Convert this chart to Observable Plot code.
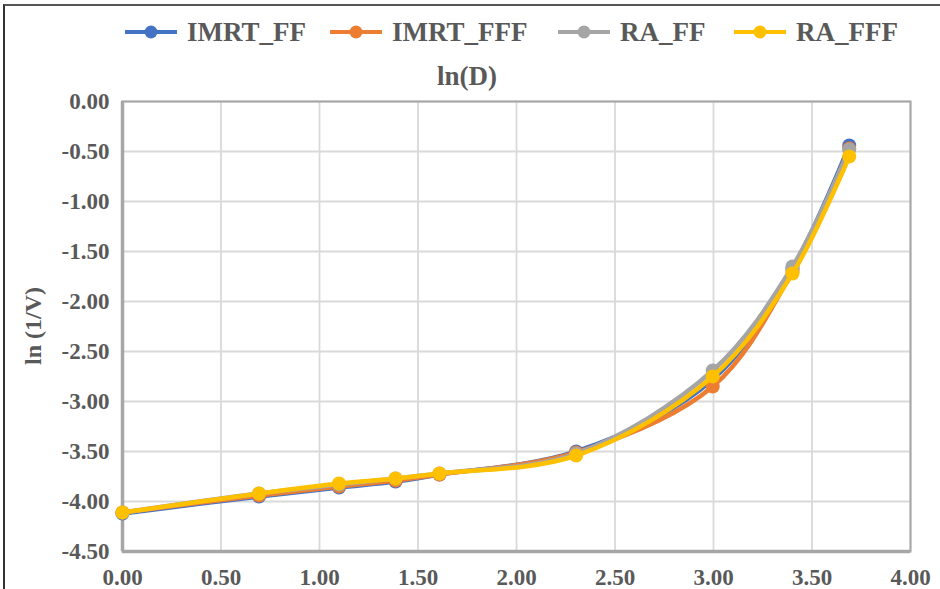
<!DOCTYPE html>
<html>
<head>
<meta charset="utf-8">
<script src="https://cdn.jsdelivr.net/npm/d3@7"></script>
<script src="https://cdn.jsdelivr.net/npm/@observablehq/plot@0.6"></script>
<style>
  body { margin: 0; background: #fff; }
  #wrap { position: relative; width: 940px; height: 589px; background: #fff; overflow: hidden;
          font-family: "Liberation Serif", "Times New Roman", serif; font-weight: bold; color: #595959; }
  #border { position: absolute; left: 3px; top: 4px; width: 960px; height: 620px;
            border-top: 2px solid #555; border-left: 2px solid #333; box-sizing: border-box; }
  .leg { position: absolute; top: 16px; height: 32px; display: flex; align-items: center; font-size: 27px; white-space: nowrap; }
  .leg svg { margin-right: 10px; }
  #title { position: absolute; top: 61px; left: 467px; transform: translateX(-50%); font-size: 27px; }
  #ytitle { position: absolute; left: 33px; top: 326px; transform: translate(-50%, -50%) rotate(-90deg);
            font-size: 24px; white-space: nowrap; }
  #chart { position: absolute; left: 0; top: 0; }
</style>
</head>
<body>
<div id="wrap">
  <div id="border"></div>
  <div id="legend"></div>
  <div id="title"></div>
  <div id="ytitle"></div>
  <div id="chart"></div>
</div>
<script>
// ---- data ----
const lnD = [0.000, 0.693, 1.099, 1.386, 1.609, 2.303, 2.996, 3.401, 3.689];
const seriesNames = ["IMRT_FF", "IMRT_FFF", "RA_FF", "RA_FFF"];
const IMRT_FF  = [-4.12, -3.95, -3.86, -3.80, -3.73, -3.50, -2.78, -1.67, -0.44];
const IMRT_FFF = [-4.11, -3.94, -3.85, -3.79, -3.73, -3.51, -2.85, -1.70, -0.47];
const RA_FF    = [-4.11, -3.92, -3.83, -3.77, -3.72, -3.52, -2.69, -1.65, -0.48];
const RA_FFF   = [-4.11, -3.92, -3.82, -3.77, -3.72, -3.54, -2.75, -1.72, -0.55];
const seriesValues = [IMRT_FF, IMRT_FFF, RA_FF, RA_FFF];
const seriesColors = ["#4472C4", "#ED7D31", "#A5A5A5", "#FFC000"];
const xTicks = [0, 0.5, 1, 1.5, 2, 2.5, 3, 3.5, 4];
const yTicks = [0, -0.5, -1, -1.5, -2, -2.5, -3, -3.5, -4, -4.5];
const xTitle = "ln(D)";
const yTitle = "ln (1/V)";

// ---- legend & titles ----
const legendLeft = [125, 330, 558, 734];
const legend = document.getElementById("legend");
seriesNames.forEach((name, i) => {
  const item = document.createElement("div");
  item.className = "leg";
  item.style.left = legendLeft[i] + "px";
  item.innerHTML = `<svg width="52" height="16"><line x1="0" x2="52" y1="8" y2="8" stroke="${seriesColors[i]}" stroke-width="4"/><circle cx="26" cy="8" r="6.5" fill="${seriesColors[i]}"/></svg><span>${name}</span>`;
  legend.appendChild(item);
});
document.getElementById("title").textContent = xTitle;
document.getElementById("ytitle").textContent = yTitle;

// ---- chart ----
const rows = [];
seriesNames.forEach((name, i) => {
  lnD.forEach((x, j) => rows.push({series: name, x, y: seriesValues[i][j]}));
});

const seriesMarks = [];
seriesNames.forEach((name, i) => {
  const d = rows.filter(r => r.series === name);
  seriesMarks.push(Plot.line(d, {x: "x", y: "y", stroke: seriesColors[i], strokeWidth: 4.5, curve: "catmull-rom"}));
  seriesMarks.push(Plot.dot(d, {x: "x", y: "y", fill: seriesColors[i], r: 7, stroke: "none"}));
});

const fmt = d => d.toFixed(2);

const chart = Plot.plot({
  width: 940,
  height: 589,
  marginLeft: 122,
  marginRight: 30,
  marginTop: 101,
  marginBottom: 38,
  style: {fontFamily: '"Liberation Serif", "Times New Roman", serif', fontSize: "23px", fontWeight: "bold",
          color: "#595959", background: "transparent", overflow: "visible"},
  x: {domain: [0, 4]},
  y: {domain: [-4.5, 0]},
  marks: [
    Plot.gridX(xTicks, {stroke: "#d9d9d9", strokeOpacity: 1, strokeWidth: 1.8}),
    Plot.gridY(yTicks, {stroke: "#d9d9d9", strokeOpacity: 1, strokeWidth: 1.8}),
    Plot.frame({stroke: "#a6a6a6", strokeWidth: 2}),
    Plot.ruleX([0], {stroke: "#a6a6a6", strokeWidth: 3.5}),
    Plot.ruleY([-4.5], {stroke: "#a6a6a6", strokeWidth: 3.5}),
    Plot.axisX(xTicks, {tickSize: 0, tickPadding: 17, tickFormat: fmt, label: null, fill: "#595959"}),
    Plot.axisY(yTicks, {tickSize: 0, tickPadding: 13, tickFormat: fmt, label: null, fill: "#595959"}),
    ...seriesMarks
  ]
});
document.getElementById("chart").appendChild(chart);
</script>
</body>
</html>
